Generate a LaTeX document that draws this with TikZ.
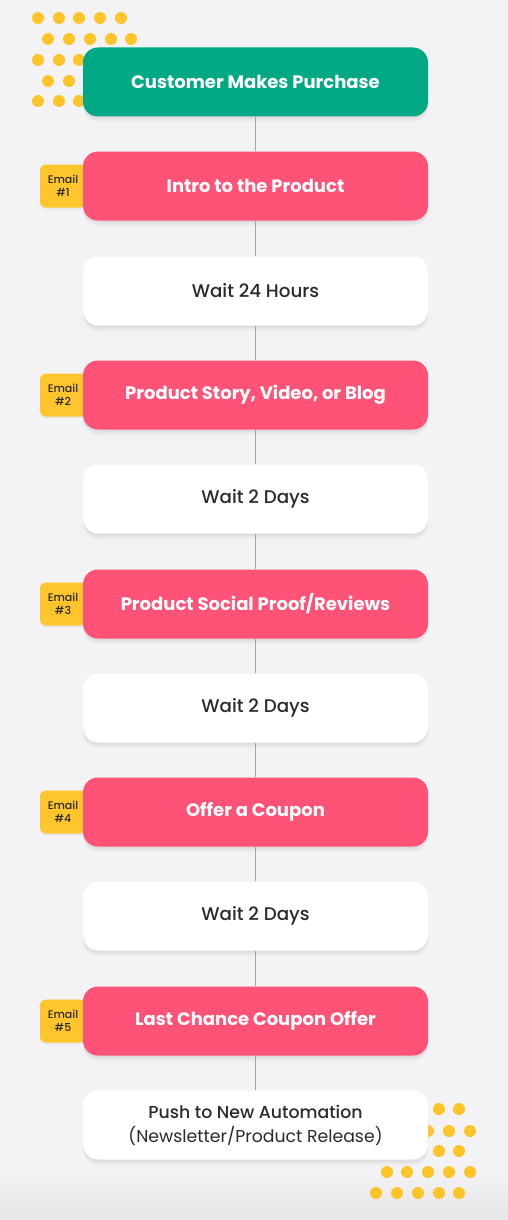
\documentclass[tikz,border=0pt]{standalone}
\usepackage{fontspec}
\setmainfont{Poppins}
\newfontfamily\medfont{Poppins Medium}
\newfontfamily\semifont{Poppins SemiBold}
\definecolor{bg}{HTML}{F3F2F4}
\definecolor{bgdark}{HTML}{E6E5E8}
\definecolor{dotc}{HTML}{FFC428}
\definecolor{greenc}{HTML}{00A884}
\definecolor{pinkc}{HTML}{FF5277}
\definecolor{tagc}{HTML}{FFC52C}
\definecolor{darktext}{HTML}{2A2A30}
\definecolor{linec}{HTML}{A3A3A6}
\tikzset{
  softshadow/.style={
    preaction={fill=black, opacity=0.035, transform canvas={yshift=-2pt}},
    preaction={fill=black, opacity=0.03, transform canvas={yshift=-4pt}},
    preaction={fill=black, opacity=0.02, transform canvas={yshift=-6pt}}},
  box/.style={rectangle, rounded corners=15pt, minimum width=345pt, minimum height=69pt,
    align=center, inner sep=0pt, softshadow},
  greenbox/.style={box, fill=greenc, text=white, font=\fontsize{18}{22}\selectfont\bfseries},
  pinkbox/.style={box, fill=pinkc, text=white, font=\fontsize{18}{22}\selectfont\bfseries},
  whitebox/.style={box, fill=white, text=darktext, font=\fontsize{18.3}{24}\medfont},
  tag/.style={rectangle, rounded corners=6pt, minimum width=46pt, minimum height=43pt,
    fill=tagc, text=darktext, align=center, inner sep=0pt,
    font=\fontsize{11}{12.5}\medfont,
    preaction={fill=black, opacity=0.04, transform canvas={yshift=-2pt}}},
  conn/.style={draw=linec, line width=1.8pt},
  dot/.style={fill=dotc}
}
\begin{document}
\begin{tikzpicture}[x=1pt,y=-1pt]
\fill[bg] (0,0) rectangle (508,1220);
\shade[top color=bg, bottom color=bgdark] (0,1170) rectangle (508,1220);
\useasboundingbox (0,0) rectangle (508,1220);
% dots top-left
\foreach \y in {18,60,101} { \foreach \x in {38,59,79,100,121} { \fill[dot] (\x,\y) circle (6pt); } }
\foreach \y in {39,81} { \foreach \x in {48,69,90,111,131} { \fill[dot] (\x,\y) circle (6pt); } }
% dots bottom-right
\foreach \y in {1109,1151,1193} { \foreach \x in {376,397,418,439,459} { \fill[dot] (\x,\y) circle (6pt); } }
\foreach \y in {1131,1172} { \foreach \x in {387,407,428,449,470} { \fill[dot] (\x,\y) circle (6pt); } }
% email tags
\node[tag] (t1) at (63,186) {Email\\\#1};
\node[tag] (t2) at (63,395) {Email\\\#2};
\node[tag] (t3) at (63,604) {Email\\\#3};
\node[tag] (t4) at (63,812) {Email\\\#4};
\node[tag] (t5) at (63,1021) {Email\\\#5};
% boxes
\node[greenbox] (b1) at (255.5,82) {Customer Makes Purchase};
\node[pinkbox] (b2) at (255.5,186) {Intro to the Product};
\node[whitebox] (b3) at (255.5,291) {Wait 24 Hours};
\node[pinkbox] (b4) at (255.5,395) {Product Story, Video, or Blog};
\node[whitebox] (b5) at (255.5,499) {Wait 2 Days};
\node[pinkbox] (b6) at (255.5,604) {Product Social Proof/Reviews};
\node[whitebox] (b7) at (255.5,708) {Wait 2 Days};
\node[pinkbox] (b8) at (255.5,812) {Offer a Coupon};
\node[whitebox] (b9) at (255.5,916) {Wait 2 Days};
\node[pinkbox] (b10) at (255.5,1021) {Last Chance Coupon Offer};
\node[whitebox, font=\fontsize{17.3}{24}\selectfont] (b11) at (255.5,1125) {{\medfont Push to New Automation}\\(Newsletter/Product Release)};
% connectors
\foreach \a/\b in {b1/b2,b2/b3,b3/b4,b4/b5,b5/b6,b6/b7,b7/b8,b8/b9,b9/b10,b10/b11}
  { \draw[conn] (\a) -- (\b); }
\end{tikzpicture}
\end{document}
